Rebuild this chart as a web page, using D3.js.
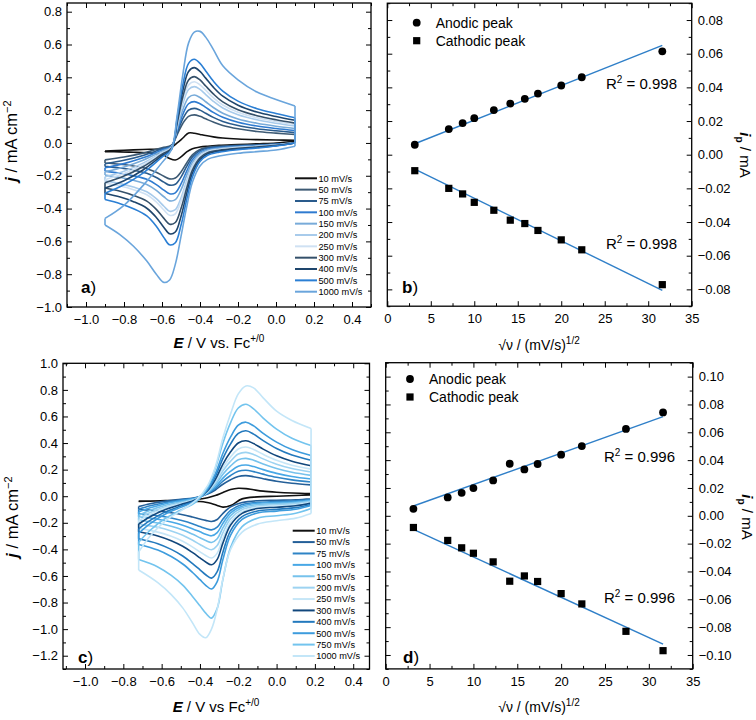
<!DOCTYPE html>
<html>
<head>
<meta charset="utf-8">
<script src="https://cdn.jsdelivr.net/npm/d3@7"></script>
<style>
  body { margin: 0; background: #fff; }
  svg { display: block; }
</style>
</head>
<body>
<svg id="fig" width="756" height="720"></svg>
<script>
// ── Data ───────────────────────────────────────────────────────────────────

// a) CVs, first compound
const ratesA = ['10 mV/s', '50 mV/s', '75 mV/s', '100 mV/s', '150 mV/s', '200 mV/s',
                '250 mV/s', '300 mV/s', '400 mV/s', '500 mV/s', '1000 mV/s'];
const coloursA = ['#111111', '#3d5a74', '#2a5b8c', '#2f7bd0', '#78abd9', '#a8cbeb',
                  '#cfe1f3', '#34506a', '#1e456c', '#2b7fd4', '#6aa5dc'];
// potentials of the forward (oxidation) and reverse (reduction) sweeps, V
const eFwdA = [-0.9, -0.8, -0.7, -0.6, -0.55, -0.52, -0.49, -0.46, -0.43, -0.40, -0.37, -0.33, -0.28, -0.2, -0.1, 0.0, 0.1];
const eRevA = [0.1, 0.0, -0.1, -0.2, -0.3, -0.36, -0.40, -0.44, -0.47, -0.50, -0.53, -0.56, -0.59, -0.63, -0.68, -0.75, -0.82, -0.9];
// current density, mA cm-2, one row per scan rate
const jFwdA = [
  [-0.05, -0.045, -0.04, -0.035, -0.025, 0.0, 0.03, 0.061, 0.059, 0.052, 0.045, 0.037, 0.03, 0.024, 0.02, 0.018, 0.016],
  [-0.103, -0.086, -0.062, -0.029, -0.014, 0.051, 0.120, 0.162, 0.171, 0.162, 0.147, 0.127, 0.106, 0.086, 0.070, 0.060, 0.051],
  [-0.127, -0.106, -0.076, -0.036, -0.017, 0.063, 0.148, 0.200, 0.211, 0.200, 0.181, 0.156, 0.131, 0.106, 0.087, 0.074, 0.063],
  [-0.151, -0.126, -0.091, -0.043, -0.020, 0.076, 0.176, 0.239, 0.252, 0.239, 0.217, 0.186, 0.156, 0.126, 0.103, 0.088, 0.076],
  [-0.175, -0.146, -0.105, -0.050, -0.023, 0.088, 0.204, 0.277, 0.292, 0.277, 0.251, 0.216, 0.181, 0.146, 0.120, 0.102, 0.088],
  [-0.206, -0.172, -0.123, -0.058, -0.027, 0.103, 0.240, 0.326, 0.343, 0.326, 0.295, 0.254, 0.213, 0.172, 0.141, 0.120, 0.103],
  [-0.224, -0.187, -0.134, -0.063, -0.030, 0.112, 0.261, 0.354, 0.373, 0.354, 0.321, 0.276, 0.231, 0.187, 0.153, 0.131, 0.112],
  [-0.242, -0.202, -0.145, -0.069, -0.032, 0.121, 0.283, 0.384, 0.404, 0.384, 0.347, 0.299, 0.250, 0.202, 0.166, 0.141, 0.121],
  [-0.275, -0.230, -0.165, -0.078, -0.037, 0.138, 0.321, 0.436, 0.459, 0.436, 0.395, 0.340, 0.285, 0.230, 0.188, 0.161, 0.138],
  [-0.306, -0.255, -0.184, -0.087, -0.041, 0.153, 0.357, 0.485, 0.510, 0.485, 0.439, 0.377, 0.316, 0.255, 0.209, 0.179, 0.153],
  [-0.46, -0.38, -0.26, -0.12, -0.04, 0.17, 0.42, 0.61, 0.675, 0.68, 0.645, 0.57, 0.47, 0.385, 0.31, 0.265, 0.225]
];
const jRevA = [
  [0.01, 0.0, -0.005, -0.01, -0.015, -0.02, -0.025, -0.035, -0.055, -0.085, -0.104, -0.095, -0.075, -0.065, -0.06, -0.057, -0.055, -0.053],
  [0.0, -0.007, -0.011, -0.014, -0.020, -0.027, -0.040, -0.073, -0.122, -0.177, -0.214, -0.219, -0.203, -0.179, -0.157, -0.141, -0.130, -0.122],
  [0.0, -0.008, -0.013, -0.017, -0.023, -0.031, -0.047, -0.086, -0.143, -0.208, -0.252, -0.257, -0.239, -0.211, -0.185, -0.166, -0.153, -0.143],
  [0.0, -0.009, -0.016, -0.020, -0.028, -0.038, -0.056, -0.103, -0.172, -0.250, -0.304, -0.310, -0.288, -0.254, -0.222, -0.200, -0.185, -0.172],
  [0.0, -0.011, -0.018, -0.023, -0.032, -0.043, -0.064, -0.118, -0.196, -0.286, -0.346, -0.353, -0.328, -0.289, -0.253, -0.228, -0.211, -0.196],
  [0.0, -0.013, -0.021, -0.027, -0.038, -0.050, -0.076, -0.139, -0.231, -0.336, -0.407, -0.416, -0.386, -0.340, -0.298, -0.269, -0.248, -0.231],
  [0.0, -0.013, -0.022, -0.029, -0.040, -0.053, -0.080, -0.147, -0.245, -0.356, -0.432, -0.441, -0.409, -0.360, -0.316, -0.285, -0.263, -0.245],
  [0.0, -0.015, -0.025, -0.033, -0.045, -0.060, -0.090, -0.165, -0.275, -0.400, -0.485, -0.495, -0.460, -0.405, -0.355, -0.320, -0.295, -0.275],
  [0.0, -0.017, -0.028, -0.036, -0.050, -0.067, -0.101, -0.185, -0.308, -0.448, -0.543, -0.554, -0.515, -0.454, -0.398, -0.358, -0.330, -0.308],
  [0.0, -0.019, -0.031, -0.041, -0.056, -0.075, -0.113, -0.207, -0.345, -0.502, -0.608, -0.621, -0.577, -0.508, -0.445, -0.401, -0.370, -0.345],
  [-0.02, -0.043, -0.053, -0.063, -0.08, -0.10, -0.14, -0.24, -0.39, -0.57, -0.74, -0.835, -0.85, -0.80, -0.72, -0.63, -0.56, -0.50]
];

// b) peak currents vs square root of scan rate
const sqrtRateB = [3.16, 7.07, 8.66, 10, 12.25, 14.14, 15.81, 17.32, 20, 22.36, 31.62];
const anodicB   = [0.0059, 0.0152, 0.0188, 0.0217, 0.0265, 0.0304, 0.0332, 0.0363, 0.0411, 0.046, 0.0614];
const cathodicB = [-0.0095, -0.020, -0.0233, -0.0283, -0.033, -0.0389, -0.0409, -0.045, -0.0506, -0.0565, -0.0772];
const fitAnodicB = [0.002055, 0.0];      // slope, intercept
const fitCathodicB = [-0.002533, -0.0005];
const r2B = ['0.998', '0.998'];

// c) CVs, second compound
const ratesC = ['10 mV/s', '50 mV/s', '75 mV/s', '100 mV/s', '150 mV/s', '200 mV/s',
                '250 mV/s', '300 mV/s', '400 mV/s', '500 mV/s', '750 mV/s', '1000 mV/s'];
const coloursC = ['#111111', '#245f98', '#2e84c6', '#48a8e6', '#76c2ec', '#9dd3f1',
                  '#c6e6f7', '#11477c', '#2379bd', '#3d9cdd', '#73c4ee', '#c3e6f8'];
const eFwdC = [-0.72, -0.66, -0.58, -0.5, -0.42, -0.36, -0.32, -0.28, -0.24, -0.2, -0.16, -0.12, -0.07, 0.0, 0.08, 0.18];
const eRevC = [0.18, 0.1, 0.0, -0.1, -0.18, -0.24, -0.28, -0.31, -0.34, -0.37, -0.40, -0.44, -0.49, -0.55, -0.62, -0.72];
const jFwdC = [
  [-0.04, -0.037, -0.033, -0.03, -0.025, -0.012, 0.005, 0.028, 0.05, 0.06, 0.057, 0.048, 0.038, 0.03, 0.024, 0.02],
  [-0.078, -0.057, -0.037, -0.023, -0.009, 0.016, 0.047, 0.090, 0.124, 0.149, 0.155, 0.147, 0.132, 0.113, 0.098, 0.085],
  [-0.098, -0.072, -0.047, -0.029, -0.012, 0.020, 0.059, 0.113, 0.156, 0.187, 0.195, 0.185, 0.166, 0.142, 0.123, 0.107],
  [-0.118, -0.087, -0.056, -0.035, -0.014, 0.024, 0.071, 0.136, 0.188, 0.226, 0.235, 0.223, 0.200, 0.172, 0.148, 0.129],
  [-0.143, -0.105, -0.068, -0.043, -0.017, 0.029, 0.086, 0.165, 0.228, 0.274, 0.285, 0.271, 0.242, 0.208, 0.180, 0.157],
  [-0.165, -0.122, -0.079, -0.050, -0.020, 0.033, 0.099, 0.191, 0.264, 0.317, 0.33, 0.314, 0.281, 0.241, 0.208, 0.182],
  [-0.185, -0.137, -0.089, -0.056, -0.022, 0.037, 0.111, 0.215, 0.296, 0.355, 0.37, 0.352, 0.315, 0.270, 0.233, 0.204],
  [-0.209, -0.154, -0.100, -0.063, -0.025, 0.042, 0.125, 0.242, 0.334, 0.400, 0.417, 0.396, 0.354, 0.304, 0.263, 0.229],
  [-0.246, -0.182, -0.118, -0.074, -0.030, 0.049, 0.148, 0.285, 0.394, 0.472, 0.492, 0.467, 0.418, 0.359, 0.310, 0.271],
  [-0.279, -0.206, -0.134, -0.084, -0.033, 0.056, 0.167, 0.323, 0.446, 0.535, 0.557, 0.529, 0.473, 0.407, 0.351, 0.306],
  [-0.346, -0.256, -0.166, -0.104, -0.042, 0.069, 0.208, 0.401, 0.554, 0.664, 0.692, 0.657, 0.588, 0.505, 0.436, 0.381],
  [-0.42, -0.30, -0.185, -0.11, -0.03, 0.08, 0.22, 0.44, 0.62, 0.77, 0.83, 0.815, 0.74, 0.64, 0.57, 0.51]
];
const jRevC = [
  [0.01, 0.005, 0.0, -0.005, -0.02, -0.07, -0.082, -0.07, -0.055, -0.045, -0.04, -0.037, -0.036, -0.036, -0.036, -0.037],
  [-0.019, -0.027, -0.030, -0.034, -0.048, -0.080, -0.129, -0.175, -0.19, -0.182, -0.171, -0.156, -0.139, -0.124, -0.110, -0.099],
  [-0.025, -0.035, -0.040, -0.046, -0.063, -0.106, -0.172, -0.233, -0.253, -0.243, -0.228, -0.207, -0.185, -0.164, -0.147, -0.132],
  [-0.030, -0.042, -0.048, -0.054, -0.075, -0.125, -0.203, -0.274, -0.298, -0.286, -0.268, -0.244, -0.218, -0.194, -0.173, -0.155],
  [-0.035, -0.049, -0.056, -0.063, -0.087, -0.146, -0.237, -0.320, -0.348, -0.334, -0.313, -0.285, -0.254, -0.226, -0.202, -0.181],
  [-0.040, -0.056, -0.064, -0.073, -0.101, -0.169, -0.274, -0.371, -0.403, -0.387, -0.363, -0.330, -0.294, -0.262, -0.234, -0.210],
  [-0.047, -0.065, -0.074, -0.084, -0.116, -0.195, -0.316, -0.428, -0.465, -0.446, -0.419, -0.381, -0.339, -0.302, -0.270, -0.242],
  [-0.052, -0.072, -0.083, -0.093, -0.129, -0.217, -0.351, -0.475, -0.516, -0.495, -0.464, -0.423, -0.377, -0.335, -0.299, -0.268],
  [-0.062, -0.086, -0.099, -0.111, -0.154, -0.259, -0.419, -0.567, -0.616, -0.591, -0.554, -0.505, -0.450, -0.400, -0.357, -0.320],
  [-0.070, -0.098, -0.112, -0.126, -0.175, -0.293, -0.475, -0.642, -0.698, -0.670, -0.628, -0.572, -0.510, -0.454, -0.405, -0.363],
  [-0.092, -0.128, -0.147, -0.165, -0.229, -0.385, -0.624, -0.844, -0.917, -0.880, -0.825, -0.752, -0.669, -0.596, -0.532, -0.477],
  [-0.13, -0.165, -0.185, -0.21, -0.27, -0.40, -0.62, -0.85, -1.0, -1.065, -1.04, -0.95, -0.84, -0.74, -0.65, -0.555]
];

// d) peak currents, second compound
const sqrtRateD = [3.16, 7.07, 8.66, 10, 12.25, 14.14, 15.81, 17.32, 20, 22.36, 27.39, 31.62];
const anodicD   = [0.005, 0.0132, 0.0165, 0.0199, 0.0254, 0.0374, 0.0333, 0.0372, 0.0439, 0.0501, 0.0624, 0.0743];
const cathodicD = [-0.0084, -0.0177, -0.023, -0.0269, -0.0331, -0.047, -0.0432, -0.0472, -0.0559, -0.0633, -0.083, -0.0969];
const fitAnodicD = [0.002256, -0.0001];
const fitCathodicD = [-0.002899, -0.0006];
const r2D = ['0.996', '0.996'];

// tick values
const eTicks  = [-1.0, -0.8, -0.6, -0.4, -0.2, 0.0, 0.2, 0.4];
const jTicksA = [-1.0, -0.8, -0.6, -0.4, -0.2, 0.0, 0.2, 0.4, 0.6, 0.8];
const jTicksC = [-1.2, -1.0, -0.8, -0.6, -0.4, -0.2, 0.0, 0.2, 0.4, 0.6, 0.8, 1.0];
const vTicks  = [0, 5, 10, 15, 20, 25, 30, 35];
const iTicksB = [-0.08, -0.06, -0.04, -0.02, 0.0, 0.02, 0.04, 0.06, 0.08];
const iTicksD = [-0.10, -0.08, -0.06, -0.04, -0.02, 0.0, 0.02, 0.04, 0.06, 0.08, 0.10];

// ── Drawing ────────────────────────────────────────────────────────────────
const FONT = '"Liberation Sans", Arial, Helvetica, sans-serif';
const svg = d3.select('#fig').attr('font-family', FONT);
const FIT = '#2f7fc8';

// minor ticks halfway between majors, inside the domain
function minors(ticks, dom) {
  const h = (ticks[1] - ticks[0]) / 2, out = [];
  for (let v = ticks[0] - h; v <= dom[1] + 1e-9; v += 2 * h) if (v >= dom[0] - 1e-9) out.push(+v.toFixed(6));
  return out;
}

// inward ticks on all four sides + box
function frame(x, y, o) {
  const [xl, xr] = x.range(), [yb, yt] = y.range();
  const none = () => '';
  const add = (axis, tx, ty, ticks, size, fmt, pad) => {
    const g = svg.append('g').attr('transform', `translate(${tx},${ty})`)
      .call(axis.tickValues(ticks).tickSize(-size).tickSizeOuter(0).tickPadding(pad || 0).tickFormat(fmt || none));
    g.select('.domain').remove();
    g.attr('font-family', FONT).attr('font-size', 13);
    return g;
  };
  const xm = minors(o.xt, x.domain()), ym = minors(o.yt, y.domain());
  add(d3.axisBottom(x), 0, yb, o.xt, 5, o.xf, 8);
  add(d3.axisBottom(x), 0, yb, xm, 3);
  add(d3.axisTop(x), 0, yt, o.xt, 5);
  add(d3.axisTop(x), 0, yt, xm, 3);
  add(d3.axisLeft(y), xl, 0, o.yt, 5, o.side === 'left' ? o.yf : null, 5);
  add(d3.axisLeft(y), xl, 0, ym, 3);
  add(d3.axisRight(y), xr, 0, o.yt, 5, o.side === 'right' ? o.yf : null, 6);
  add(d3.axisRight(y), xr, 0, ym, 3);
  svg.append('rect').attr('x', xl).attr('y', yt).attr('width', xr - xl).attr('height', yb - yt)
    .attr('fill', 'none').attr('stroke', '#000').attr('stroke-width', 1.3);
}

function panelLabel(x, y, letter) {
  const t = svg.append('text').attr('x', x).attr('y', y).attr('font-size', 17);
  t.append('tspan').attr('font-weight', 'bold').text(letter);
  t.append('tspan').text(')');
}

function cvPanel(x, y, eF, eR, jF, jR, cols, rates, leg) {
  const line = d3.line().x(d => x(d[0])).y(d => y(d[1])).curve(d3.curveCatmullRom.alpha(0.5));
  const straight = d3.line().x(d => x(d[0])).y(d => y(d[1]));
  jF.forEach((row, k) => {
    const f = row.map((j, i) => [eF[i], j]);
    const r = jR[k].map((j, i) => [eR[i], j]);
    const d = line(f) + line(r) +
      straight([f[f.length - 1], r[0]]) + straight([r[r.length - 1], f[0]]);
    svg.append('path').attr('d', d).attr('fill', 'none')
      .attr('stroke', cols[k]).attr('stroke-width', 1.6).attr('stroke-linejoin', 'round');
  });
  // legend
  rates.forEach((lab, k) => {
    const ly = leg.y + k * leg.dy;
    svg.append('line').attr('x1', leg.x).attr('x2', leg.x + 22).attr('y1', ly).attr('y2', ly)
      .attr('stroke', cols[k]).attr('stroke-width', 2);
    svg.append('text').attr('x', leg.x + 23.5).attr('y', ly + 3.3).attr('font-size', 9.2).text(lab);
  });
}

function peakPanel(x, y, v, an, ca, fitA, fitC, r2, pos) {
  const ext = d3.extent(v);
  const line = d3.line().x(d => x(d[0])).y(d => y(d[1]));
  [fitA, fitC].forEach(p => {
    svg.append('path').attr('d', line(ext.map(s => [s, p[0] * s + p[1]])))
      .attr('fill', 'none').attr('stroke', FIT).attr('stroke-width', 1.4);
  });
  v.forEach((s, i) => {
    svg.append('circle').attr('cx', x(s)).attr('cy', y(an[i])).attr('r', 3.9).attr('fill', '#000');
    svg.append('rect').attr('x', x(s) - 3.6).attr('y', y(ca[i]) - 3.6).attr('width', 7.2).attr('height', 7.2).attr('fill', '#000');
  });
  // legend
  svg.append('circle').attr('cx', pos.lx).attr('cy', pos.ly).attr('r', 3.9).attr('fill', '#000');
  svg.append('rect').attr('x', pos.lx - 3.6).attr('y', pos.ly + 18 - 3.6).attr('width', 7.2).attr('height', 7.2).attr('fill', '#000');
  svg.append('text').attr('x', pos.lx + 19).attr('y', pos.ly + 5).attr('font-size', 14).text('Anodic peak');
  svg.append('text').attr('x', pos.lx + 19).attr('y', pos.ly + 23).attr('font-size', 14).text('Cathodic peak');
  // R² labels
  pos.r2y.forEach((ry, i) => {
    const t = svg.append('text').attr('x', pos.r2x).attr('y', ry).attr('text-anchor', 'end').attr('font-size', 15);
    t.append('tspan').text('R');
    t.append('tspan').attr('dy', -6).attr('font-size', 10).text('2');
    t.append('tspan').attr('dy', 6).text(' = ' + r2[i]);
  });
}

function yTitleJ(cx, cy) {
  const t = svg.append('text').attr('transform', `translate(${cx},${cy}) rotate(-90)`)
    .attr('text-anchor', 'middle').attr('font-size', 16.5);
  t.append('tspan').attr('font-weight', 'bold').attr('font-style', 'italic').text('j');
  t.append('tspan').text(' / mA cm');
  t.append('tspan').attr('dy', -6).attr('font-size', 11).text('−2');
}
function xTitleE(cx, cy, vs) {
  const t = svg.append('text').attr('x', cx).attr('y', cy).attr('text-anchor', 'middle').attr('font-size', 15);
  t.append('tspan').attr('font-weight', 'bold').attr('font-style', 'italic').text('E');
  t.append('tspan').text(' / V ' + vs + ' Fc');
  t.append('tspan').attr('dy', -6).attr('font-size', 10).text('+/0');
}
function xTitleV(cx, cy) {
  const t = svg.append('text').attr('x', cx).attr('y', cy).attr('text-anchor', 'middle').attr('font-size', 14);
  t.append('tspan').text('√ν / (mV/s)');
  t.append('tspan').attr('dy', -6).attr('font-size', 10).text('1/2');
}
function yTitleI(cx, cy) {
  const t = svg.append('text').attr('transform', `translate(${cx},${cy}) rotate(90)`)
    .attr('text-anchor', 'middle').attr('font-size', 15);
  t.append('tspan').attr('font-weight', 'bold').attr('font-style', 'italic').text('i');
  t.append('tspan').attr('dy', 4).attr('font-size', 10).attr('font-weight', 'bold').text('p');
  t.append('tspan').attr('dy', -4).text(' / mA');
}

const f1 = d3.format('.1f'), f2 = d3.format('.2f'), f0 = d3.format('d');

// a)
const xA = d3.scaleLinear().domain([-1.1, 0.5]).range([67, 371]);
const yA = d3.scaleLinear().domain([-1.0, 0.853]).range([307, 3]);
cvPanel(xA, yA, eFwdA, eRevA, jFwdA, jRevA, coloursA, ratesA, { x: 295, y: 178.3, dy: 11.34 });
frame(xA, yA, { xt: eTicks, yt: jTicksA, xf: f1, yf: f1, side: 'left' });
panelLabel(81, 293, 'a');
yTitleJ(17, 141);
xTitleE(219, 348, 'vs.');

// b)
const xB = d3.scaleLinear().domain([0, 35]).range([387.3, 691.7]);
const yB = d3.scaleLinear().domain([-0.09, 0.09]).range([306.2, 3.2]);
peakPanel(xB, yB, sqrtRateB, anodicB, cathodicB, fitAnodicB, fitCathodicB, r2B,
  { lx: 416.7, ly: 22.7, r2x: 677, r2y: [89, 249] });
frame(xB, yB, { xt: vTicks, yt: iTicksB, xf: f0, yf: f2, side: 'right' });
panelLabel(402, 293, 'b');
xTitleV(539, 350);
yTitleI(740, 155);

// c)
const xC = d3.scaleLinear().domain([-1.115, 0.485]).range([63, 369.5]);
const yC = d3.scaleLinear().domain([-1.3, 1.0]).range([669, 363.3]);
cvPanel(xC, yC, eFwdC, eRevC, jFwdC, jRevC, coloursC, ratesC, { x: 292.7, y: 530.7, dy: 11.39 });
frame(xC, yC, { xt: eTicks, yt: jTicksC, xf: f1, yf: f1, side: 'left' });
panelLabel(78, 663, 'c');
yTitleJ(18, 517);
xTitleE(216, 712, 'vs');

// d)
const xD = d3.scaleLinear().domain([0, 35]).range([385.7, 692.7]);
const yD = d3.scaleLinear().domain([-0.11, 0.11]).range([668.9, 362.7]);
peakPanel(xD, yD, sqrtRateD, anodicD, cathodicD, fitAnodicD, fitCathodicD, r2D,
  { lx: 410, ly: 379, r2x: 675, r2y: [462, 603] });
frame(xD, yD, { xt: vTicks, yt: iTicksD, xf: f0, yf: f2, side: 'right' });
panelLabel(403, 663, 'd');
xTitleV(539, 712);
yTitleI(742, 517);
</script>
</body>
</html>
